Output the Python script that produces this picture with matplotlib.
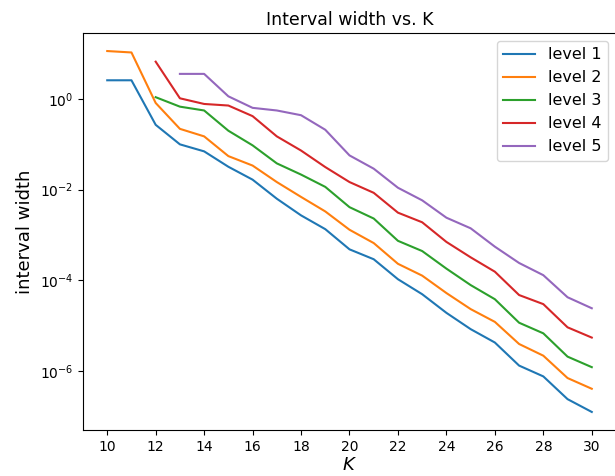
import numpy as np
import matplotlib
matplotlib.use('Agg')
import matplotlib.pyplot as plt
from matplotlib.ticker import NullLocator

# Interval width per level (log scale).
K = np.arange(10, 31)

level1 = [2.6, 2.6, 0.27, 0.10, 0.07, 0.032, 0.0166, 0.0063, 0.0027, 0.00134, 0.00048,
          0.00029, 0.000105, 4.9e-5, 1.9e-5, 8.3e-6, 4.2e-6, 1.3e-6, 7.5e-7, 2.36e-7, 1.23e-7]
level2 = [11.5, 10.7, 0.82, 0.22, 0.15, 0.055, 0.034, 0.0147, 0.0069, 0.0033, 0.0013,
          0.00066, 0.00023, 0.000126, 5.2e-5, 2.3e-5, 1.2e-5, 3.9e-6, 2.15e-6, 6.9e-7, 4.0e-7]
level3 = [np.nan, np.nan, 1.1, 0.68, 0.56, 0.2, 0.095, 0.038, 0.0215, 0.0115, 0.0041,
          0.0023, 0.00074, 0.00044, 0.00018, 7.8e-5, 3.8e-5, 1.15e-5, 6.7e-6, 2.05e-6, 1.2e-6]
level4 = [np.nan, np.nan, 6.7, 1.04, 0.78, 0.72, 0.42, 0.15, 0.073, 0.0315, 0.0147,
          0.0085, 0.0031, 0.0019, 0.0007, 0.00032, 0.000154, 4.7e-5, 2.96e-5, 9.1e-6, 5.4e-6]
level5 = [np.nan, np.nan, np.nan, 3.6, 3.6, 1.15, 0.64, 0.56, 0.44, 0.21, 0.057,
          0.029, 0.011, 0.0058, 0.0024, 0.0014, 0.00055, 0.00024, 0.000129, 4.2e-5, 2.4e-5]

levels = [level1, level2, level3, level4, level5]
labels = ['level 1', 'level 2', 'level 3', 'level 4', 'level 5']
yticks = [1e0, 1e-2, 1e-4, 1e-6]

fig = plt.figure(figsize=(6.15, 4.76), dpi=100)
ax = fig.add_axes([83/615, 46/476, 533/615, 397/476])

for vals, lab in zip(levels, labels):
    ax.plot(K, vals, label=lab)

ax.set_yscale('log')
ax.set_yticks(yticks)
ax.yaxis.set_minor_locator(NullLocator())
ax.set_xticks(np.arange(10, 31, 2))
ax.set_title('Interval width vs. K', fontsize=12.5)
ax.set_xlabel('$K$', fontsize=13, labelpad=2)
ax.set_ylabel('interval width', fontsize=13)
ax.legend(loc='upper right', fontsize=11.5)

fig.savefig('out.png', dpi=100)
